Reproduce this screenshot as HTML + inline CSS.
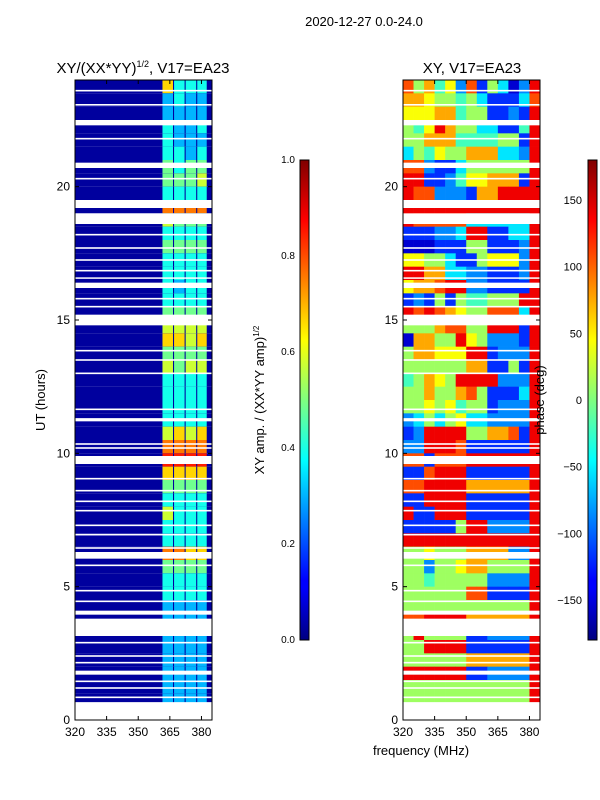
<!DOCTYPE html>
<html><head><meta charset="utf-8"><style>
html,body{margin:0;padding:0;background:#fff}
svg{display:block;font-family:"Liberation Sans",sans-serif}
</style></head><body>
<svg id="fig" width="600" height="800" viewBox="0 0 600 800" xmlns="http://www.w3.org/2000/svg">
<defs>
<linearGradient id="jet" x1="0" y1="1" x2="0" y2="0">
<stop offset="0" stop-color="#000080"/><stop offset="0.11" stop-color="#0000ff"/>
<stop offset="0.125" stop-color="#0000ff"/><stop offset="0.375" stop-color="#00ffff"/>
<stop offset="0.625" stop-color="#ffff00"/><stop offset="0.875" stop-color="#ff0000"/>
<stop offset="1" stop-color="#800000"/></linearGradient>
</defs>
<text x="364" y="26" font-size="13" text-anchor="middle">2020-12-27 0.0-24.0</text>
<text x="143" y="73" font-size="15" text-anchor="middle">XY/(XX*YY)<tspan font-size="9" dy="-6">1/2</tspan><tspan dy="6">, V17=EA23</tspan></text>
<text x="472" y="73" font-size="15" text-anchor="middle">XY, V17=EA23</text>
<g id="left"></g>
<g id="right"></g>
<g id="axes"></g>
<rect x="300" y="160" width="9" height="480" fill="url(#jet)" stroke="#000" stroke-width="1"/>
<rect x="588" y="160" width="9" height="480" fill="url(#jet)" stroke="#000" stroke-width="1"/>
<text transform="translate(264,400) rotate(-90)" font-size="13" text-anchor="middle">XY amp. / (XX*YY amp)<tspan font-size="8" dy="-5">1/2</tspan></text>
<text transform="translate(544,400) rotate(-90)" font-size="13" text-anchor="middle">phase (deg)</text>
<text transform="translate(45,400) rotate(-90)" font-size="13" text-anchor="middle">UT (hours)</text>
<text x="421" y="755" font-size="13" text-anchor="middle">frequency (MHz)</text>
</svg>
<script>
// amplitude per half-hour row (top 23.5-24 down to 0-0.5), 4 bright sub-bands
const ampRows=["7444","3433","3333","4334","4333","4434","5455","5556","4444","8888","6555","4444","5555","4444","4444","4344","4444","5555","6666","7767","5555","6566","4444","4444","4444","4444","6767","8888","9999","7777","5555","4444","6444","4444","4444","8877","5555","4444","4444","3333","3333","3333","3333","3333","3333","3333","3333","3333"];
const ampBands=[[361.5,366.5],[367,372],[372.5,377.5],[378,382.5]];
// phase per half-hour row, 13 columns of 5 MHz from 320
const phaseRows=["8574628153029","7765545311138","6667745511219","5469755331149","5577744445519","3546557773329","8821135555559","9911246677719","9882221779999","9999999999999","9888883333339","1112239911339","0001115511129","6655311566629","9977332211129","6778992211119","1215154455599","9898765588839","5557885599919","0775596522219","5776669912229","5555557711519","4576599992229","5575578511139","5565645512229","2353563322229","1299995577819","2299981111119","8818889999999","1189991111119","8899997777779","1199991111119","9119991111119","1111159922229","9999999999999","5565557777229","5525567755559","5545555522229","5555558811119","5555555555559","8899997777779","5955551122229","5599991111119","5555557777779","9999991122229","5555555555559","5555555555559","5555555555559"];
// flagged (white) time ranges in hours
const flags=[[0,0.67],[0.82,0.88],[1.17,1.23],[1.42,1.48],[1.7,1.85],[2.12,2.18],[2.37,2.43],[2.87,2.93],[3.15,3.8],[3.95,4.1],[4.42,4.48],[4.82,4.88],[5.77,5.83],[6.05,6.3],[6.42,6.48],[6.92,6.98],[7.27,7.33],[7.82,7.88],[8.17,8.23],[8.57,8.63],[9.02,9.08],[9.6,9.9],[10.17,10.23],[10.32,10.38],[11.2,11.32],[11.62,11.68],[12.97,13.03],[13.47,13.53],[13.82,13.88],[14.8,15.2],[15.47,15.53],[15.77,15.83],[16.2,16.4],[16.55,16.6],[16.82,16.88],[17.22,17.28],[17.67,17.73],[18.17,18.23],[18.6,19.0],[19.2,19.5],[20.27,20.33],[20.7,20.9],[21.77,21.83],[22.3,22.5],[23.04,23.1],[23.57,23.63]];
const ampTicks=[0,0.2,0.4,0.6,0.8,1.0];
const phaseTicks=[-150,-100,-50,0,50,100,150];
const hourTicks=[0,5,10,15,20];
const freqTicks=[320,335,350,365,380];

const NS="http://www.w3.org/2000/svg";
function jet(v){v=Math.max(0,Math.min(1,v));
 const r=Math.max(0,Math.min(1,1.5-Math.abs(4*v-3))),g=Math.max(0,Math.min(1,1.5-Math.abs(4*v-2))),b=Math.max(0,Math.min(1,1.5-Math.abs(4*v-1)));
 return `rgb(${Math.round(r*255)},${Math.round(g*255)},${Math.round(b*255)})`;}
function el(t,a,p){const e=document.createElementNS(NS,t);for(const k in a)e.setAttribute(k,a[k]);p.appendChild(e);return e;}
function yH(h){return 720-h*(640/24);}
function xL(f){return 75+(f-320)*(137/65);}
function xR(f){return 403+(f-320)*(137/65);}
const L=document.getElementById('left'),R=document.getElementById('right'),A=document.getElementById('axes');
// left heatmap
ampRows.forEach((row,i)=>{const h1=24-i*0.5,h0=h1-0.5;
 const bg=el('rect',{x:xL(320),y:yH(h1),width:xL(385)-xL(320),height:yH(h0)-yH(h1),fill:jet(0.03)},L);
 
 
 ampBands.forEach((b,j)=>{const v=+row[j]/11+0.03;
  const c=el('rect',{x:xL(b[0]),y:yH(h1),width:xL(b[1])-xL(b[0]),height:yH(h0)-yH(h1),fill:jet(v)},L);
  
  });});
// right heatmap
phaseRows.forEach((row,i)=>{const h1=24-i*0.5,h0=h1-0.5;
 for(let j=0;j<row.length;j++){const f0=320+j*5,f1=Math.min(385,f0+5);
  const c=el('rect',{x:xR(f0),y:yH(h1),width:xR(f1)-xR(f0)+0.3,height:yH(h0)-yH(h1)+0.3,fill:jet(0.08+(+row[j])*0.09)},R);
  
  }});
// flags
flags.forEach(fl=>{[[xL,L],[xR,R]].forEach(([xf,g])=>{
 const r=el('rect',{x:xf(320),y:yH(fl[1]),width:xf(385)-xf(320),height:Math.max(1.5,yH(fl[0])-yH(fl[1])),fill:'#fff'},g);
 
 });});
// axes frames and ticks
[[75,'left'],[403,'right']].forEach(([x0,n])=>{
 const f=el('rect',{x:x0,y:80,width:137,height:640,fill:'none',stroke:'#000','stroke-width':1},A);
 
 
 hourTicks.forEach(h=>{const y=yH(h);
  el('line',{x1:x0,x2:x0+4,y1:y,y2:y,stroke:'#000'},A);el('line',{x1:x0+137,x2:x0+133,y1:y,y2:y,stroke:'#000'},A);
  const t=el('text',{x:x0-5,y:y+4,'font-size':12,'text-anchor':'end'},A);t.textContent=h;
  
  });
 freqTicks.forEach(fq=>{const x=x0+(fq-320)*(137/65);
  el('line',{x1:x,x2:x,y1:720,y2:716,stroke:'#000'},A);el('line',{x1:x,x2:x,y1:80,y2:84,stroke:'#000'},A);
  const t=el('text',{x:x,y:736,'font-size':12,'text-anchor':'middle'},A);t.textContent=fq;
  
  });});
ampTicks.forEach(v=>{const y=640-v*480;
 el('line',{x1:300,x2:304,y1:y,y2:y,stroke:'#000'},A);el('line',{x1:309,x2:305,y1:y,y2:y,stroke:'#000'},A);
 const t=el('text',{x:295,y:y+3,'font-size':10,'text-anchor':'end'},A);t.textContent=v.toFixed(1);
 
 });
phaseTicks.forEach(v=>{const y=400-v*(480/360);
 el('line',{x1:588,x2:592,y1:y,y2:y,stroke:'#000'},A);el('line',{x1:597,x2:593,y1:y,y2:y,stroke:'#000'},A);
 const t=el('text',{x:582,y:y+4,'font-size':11,'text-anchor':'end'},A);t.textContent=v<0?'\u2212'+(-v):v;
 
 });
</script>
</body></html>
